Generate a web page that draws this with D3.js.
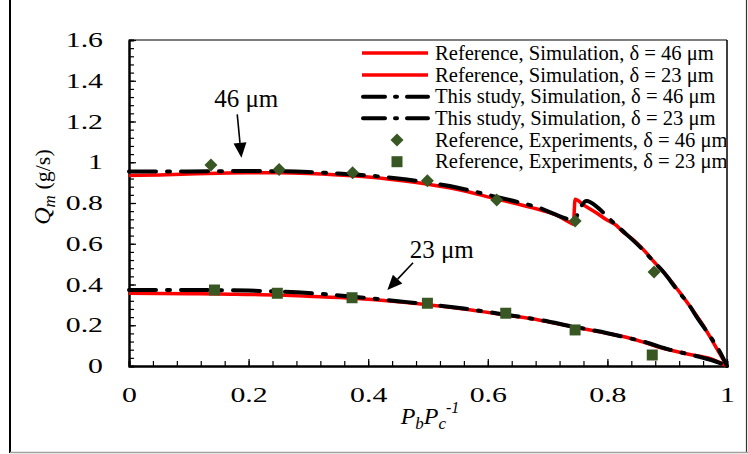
<!DOCTYPE html>
<html><head><meta charset="utf-8">
<script src="https://cdn.jsdelivr.net/npm/d3@7"></script>
<style>body{margin:0;background:#fff;} svg{display:block;} text{font-family:"Liberation Serif","Times New Roman",serif;fill:#000;}</style>
</head><body>
<svg id="c" width="748" height="454"></svg>
<script>
// ---- data ----
const ref46X = [0,0.05,0.1,0.15,0.2,0.25,0.3,0.35,0.4,0.45,0.5,0.55,0.6,0.65,0.69,0.715,0.74,0.743,0.746,0.76,0.78,0.8,0.815,0.825,0.84,0.86,0.88,0.9,0.92,0.94,0.96,0.98,1.0];
const ref46Y = [0.935,0.938,0.942,0.946,0.948,0.948,0.945,0.938,0.928,0.912,0.892,0.866,0.83,0.795,0.764,0.74,0.700,0.696,0.818,0.79,0.755,0.715,0.69,0.66,0.628,0.572,0.505,0.44,0.365,0.285,0.20,0.10,0.0];
const ref23X = [0,0.1,0.15,0.25,0.3,0.375,0.45,0.5,0.56,0.63,0.687,0.743,0.8,0.83,0.86,0.88,0.91,0.94,0.97,1.0];
const ref23Y = [0.357,0.355,0.353,0.348,0.342,0.332,0.315,0.300,0.280,0.250,0.225,0.192,0.160,0.142,0.117,0.098,0.075,0.055,0.038,0.0];
const cur46X = [0,0.1,0.2,0.25,0.3,0.35,0.4,0.45,0.5,0.55,0.6,0.65,0.687,0.712,0.735,0.745,0.752,0.765,0.785,0.804,0.824,0.857,0.874,0.891,0.921,0.935,0.949,0.974,0.988,1.0];
const cur46Y = [0.955,0.955,0.957,0.956,0.952,0.945,0.935,0.92,0.900,0.875,0.840,0.805,0.775,0.745,0.72,0.715,0.76,0.81,0.775,0.72,0.667,0.577,0.523,0.471,0.357,0.307,0.242,0.136,0.07,0.0];
const cur23X = [0,0.1,0.2,0.3,0.375,0.45,0.5,0.56,0.63,0.687,0.743,0.8,0.83,0.86,0.905,0.93,0.96,0.985,1.0];
const cur23Y = [0.373,0.373,0.370,0.358,0.340,0.318,0.303,0.282,0.252,0.226,0.193,0.161,0.141,0.120,0.079,0.062,0.040,0.018,0.0];
const exp46X = [0.137,0.251,0.374,0.499,0.615,0.746,0.878];
const exp46Y = [0.986,0.965,0.949,0.909,0.815,0.712,0.461];
const exp23X = [0.143,0.248,0.373,0.499,0.630,0.746,0.875];
const exp23Y = [0.373,0.357,0.335,0.308,0.259,0.177,0.054];
const xTicks = [0,0.2,0.4,0.6,0.8,1];
const yTicks = [0,0.2,0.4,0.6,0.8,1,1.2,1.4,1.6];
const legendLabels = ["Reference, Simulation, \u03b4 = 46 \u03bcm","Reference, Simulation, \u03b4 = 23 \u03bcm","This study, Simulation, \u03b4 = 46 \u03bcm","This study, Simulation, \u03b4 = 23 \u03bcm","Reference, Experiments, \u03b4 = 46 \u03bcm","Reference, Experiments, \u03b4 = 23 \u03bcm"];

// ---- layout ----
const svg = d3.select("#c");
const L=129, R=727, T=40, B=366;
const x = d3.scaleLinear().domain([0,1]).range([L,R]);
const y = d3.scaleLinear().domain([0,1.6]).range([B,T]);
const RED="#ff0000", GREEN="#385723";
const DASH="27,11,3,11";
const SX=1.42; // horizontal stretch of tick labels

// outer frame
svg.append("line").attr("x1",10).attr("x2",10).attr("y1",0).attr("y2",453).attr("stroke","#000").attr("stroke-width",2);
svg.append("line").attr("x1",746.5).attr("x2",746.5).attr("y1",0).attr("y2",453).attr("stroke","#333").attr("stroke-width",1.2);
svg.append("line").attr("x1",10).attr("x2",748).attr("y1",452.5).attr("y2",452.5).attr("stroke","#a0a0a0").attr("stroke-width",1.5);

// plot box
svg.append("line").attr("x1",L).attr("x2",R).attr("y1",T).attr("y2",T).attr("stroke","#000").attr("stroke-width",1.2);
svg.append("line").attr("x1",R).attr("x2",R).attr("y1",T).attr("y2",B).attr("stroke","#000").attr("stroke-width",1.5);

// axes
function styleAxis(g){ g.attr("font-family",null).attr("font-size",null); g.select(".domain").attr("stroke","#000").attr("stroke-width",2); g.selectAll(".tick line").attr("stroke","#000").attr("stroke-width",1.2); g.selectAll("text").style("font-family","'Liberation Serif', serif").style("font-size","21px").attr("fill","#000"); }
const xMinor = svg.append("g").attr("transform",`translate(0,${B})`).call(d3.axisBottom(x).tickValues(d3.range(0,1.0001,0.04)).tickSize(-5).tickFormat(""));
styleAxis(xMinor);
const xMajor = svg.append("g").attr("transform",`translate(0,${B})`).call(d3.axisBottom(x).tickValues(xTicks).tickSizeInner(-7).tickSizeOuter(0).tickPadding(21).tickFormat(d=>d3.format("")(d)));
styleAxis(xMajor);
xMajor.selectAll(".tick text").attr("transform",`scale(${SX},1)`);
const yMinor = svg.append("g").attr("transform",`translate(${L},0)`).call(d3.axisLeft(y).tickValues(d3.range(0,1.6001,0.04)).tickSize(-5).tickFormat(""));
styleAxis(yMinor);
const yMajor = svg.append("g").attr("transform",`translate(${L},0)`).call(d3.axisLeft(y).tickValues(yTicks).tickSizeInner(-7).tickSizeOuter(0).tickPadding(26).tickFormat(d=>d3.format("")(+d.toFixed(1))));
styleAxis(yMajor);
yMajor.selectAll(".tick text").attr("x",-26/SX).attr("transform",`scale(${SX},1)`);

// axis titles
const xt = svg.append("text").attr("x",(L+R)/2+2).attr("y",424).attr("text-anchor","middle").style("font-size","24px").style("font-style","italic");
xt.append("tspan").text("P");
xt.append("tspan").text("b").attr("dy",5).style("font-size","17px");
xt.append("tspan").text("P").attr("dy",-5);
xt.append("tspan").text("c").attr("dy",5).style("font-size","17px");
xt.append("tspan").text("-1").attr("dy",-16).style("font-size","16px");
const yt = svg.append("text").attr("transform",`translate(50,187) rotate(-90)`).attr("text-anchor","middle").style("font-size","24px");
yt.append("tspan").text("Q").style("font-style","italic");
yt.append("tspan").text("m").attr("dy",5).style("font-size","17px").style("font-style","italic");
yt.append("tspan").text(" (g/s)").attr("dy",-5).style("font-size","22px");

// curves
const line = d3.line().x(d=>x(d[0])).y(d=>y(d[1])).curve(d3.curveMonotoneX);
const zip=(a,b)=>a.map((v,i)=>[v,b[i]]);
const plot = svg.append("g");
plot.append("path").datum(zip(ref46X,ref46Y)).attr("d",line).attr("fill","none").attr("stroke",RED).attr("stroke-width",3.5);
plot.append("path").datum(zip(ref23X,ref23Y)).attr("d",line).attr("fill","none").attr("stroke",RED).attr("stroke-width",3.5);
plot.append("path").datum(zip(cur46X,cur46Y)).attr("d",line).attr("fill","none").attr("stroke","#000").attr("stroke-width",4).attr("stroke-dasharray",DASH).attr("stroke-linecap","round");
plot.append("path").datum(zip(cur23X,cur23Y)).attr("d",line).attr("fill","none").attr("stroke","#000").attr("stroke-width",4).attr("stroke-dasharray",DASH).attr("stroke-linecap","round");

const diamond = "M0,-6.5L6.5,0L0,6.5L-6.5,0Z";
plot.selectAll(".d46").data(zip(exp46X,exp46Y)).join("path").attr("d",diamond).attr("transform",d=>`translate(${x(d[0])},${y(d[1])})`).attr("fill",GREEN);
plot.selectAll(".s23").data(zip(exp23X,exp23Y)).join("rect").attr("x",d=>x(d[0])-5.5).attr("y",d=>y(d[1])-5.5).attr("width",11).attr("height",11).attr("fill",GREEN);

// annotations
function arrow(x1,y1,x2,y2){
  const px1=x(x1),py1=y(y1),px2=x(x2),py2=y(y2);
  const ang=Math.atan2(py2-py1,px2-px1), hl=15, hw=6.5;
  const bx=px2-hl*Math.cos(ang), by=py2-hl*Math.sin(ang);
  svg.append("line").attr("x1",px1).attr("y1",py1).attr("x2",bx).attr("y2",by).attr("stroke","#000").attr("stroke-width",1.6);
  const nx=-Math.sin(ang), ny=Math.cos(ang);
  svg.append("path").attr("d",`M${px2},${py2}L${bx+nx*hw},${by+ny*hw}L${bx-nx*hw},${by-ny*hw}Z`).attr("fill","#000");
}
svg.append("text").attr("x",x(0.196)).attr("y",y(1.271)).attr("text-anchor","middle").style("font-size","25px").text("46 \u03bcm");
arrow(0.181,1.235,0.188,1.022);
svg.append("text").attr("x",x(0.523)).attr("y",y(0.532)).attr("text-anchor","middle").style("font-size","25px").text("23 \u03bcm");
arrow(0.475,0.507,0.432,0.373);

// legend (clipped at the plot's right border)
svg.append("clipPath").attr("id","lgclip").append("rect").attr("x",L).attr("y",T).attr("width",R-L-1).attr("height",B-T);
const lg = svg.append("g").attr("clip-path","url(#lgclip)");
const rows=[53,75,96.7,118.3,140,161.7];
legendLabels.forEach((t,i)=>{
  const ry=rows[i];
  if(i<2) lg.append("line").attr("x1",362).attr("x2",428).attr("y1",ry).attr("y2",ry).attr("stroke",RED).attr("stroke-width",3.5);
  else if(i<4) lg.append("line").attr("x1",363).attr("x2",428).attr("y1",ry).attr("y2",ry).attr("stroke","#000").attr("stroke-width",4).attr("stroke-dasharray","22,10,2,10,22").attr("stroke-linecap","round");
  else if(i===4) lg.append("path").attr("d",diamond).attr("transform",`translate(397,${ry})`).attr("fill",GREEN);
  else lg.append("rect").attr("x",391.5).attr("y",ry-5.5).attr("width",11).attr("height",11).attr("fill",GREEN);
  lg.append("text").attr("x",435).attr("y",ry+6.5).style("font-size","20.6px").text(t);
});
</script>
</body></html>
